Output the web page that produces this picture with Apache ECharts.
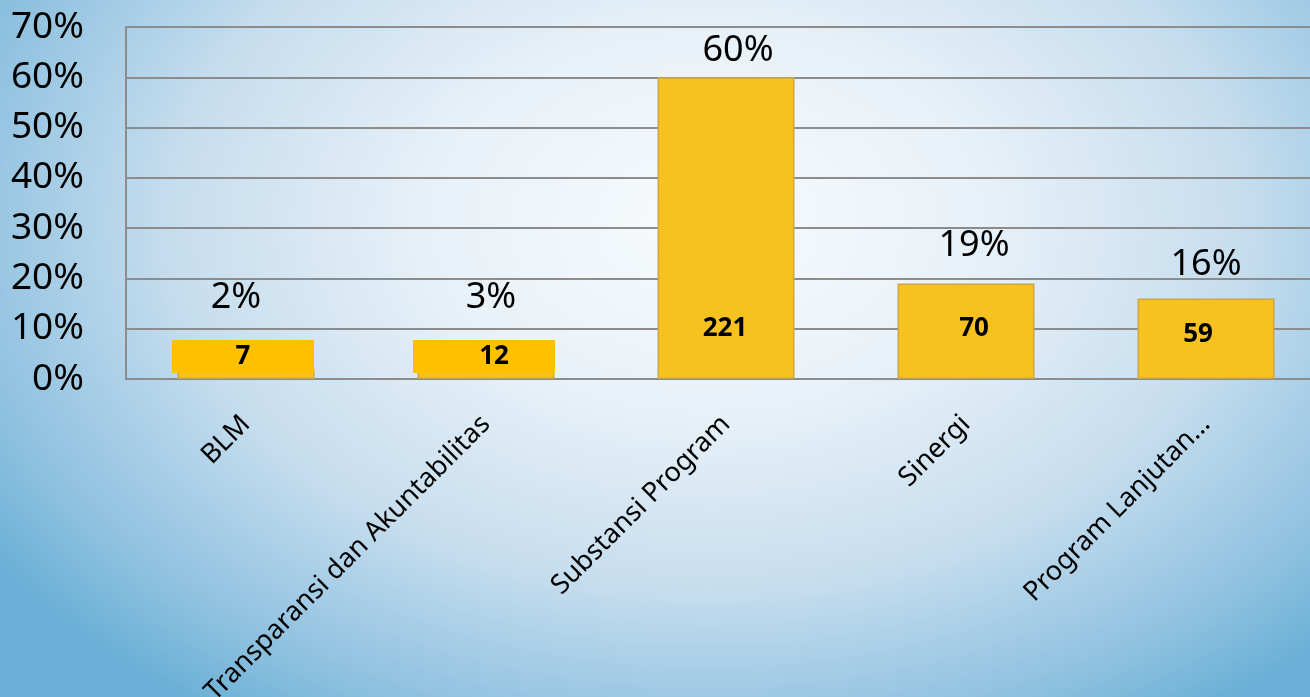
<!DOCTYPE html>
<html>
<head>
<meta charset="utf-8">
<script src="https://cdn.jsdelivr.net/npm/echarts@6/dist/echarts.min.js"></script>
<style>
html,body{margin:0;padding:0;width:1310px;height:697px;overflow:hidden;}
body{background:radial-gradient(ellipse 66% 85% at 54% 32%, #f8fbfd 0%, #e8f1f8 32%, #c6ddee 62%, #8cc0df 88%, #6cb0d7 100%);}
#chart{position:absolute;left:0;top:0;width:1326px;height:697px;}
</style>
</head>
<body>
<div id="chart"></div>
<script>
// Data
const categories = ['BLM', 'Transparansi dan Akuntabilitas', 'Substansi Program', 'Sinergi', 'Program Lanjutan…'];
const percentValues = [2, 3, 60, 19, 16];
const countValues = [7, 12, 221, 70, 59];
const yTicks = [0, 10, 20, 30, 40, 50, 60, 70];

// Label placement tweaks (manual positions as in the original)
const pctLabelDistance = [53, 48, 9, 20, 16];
const pctLabelOffsetX = [-10, 5, 12, 8, 0];
const countLabelDistance = [6, 6, 38, 38, 32];
const countLabelOffsetX = [-3, -2, -1, 8, -8];

const FONT = 'Noto Sans';

const pctData = percentValues.map((v, i) => ({
  value: v,
  label: { distance: pctLabelDistance[i], offset: [pctLabelOffsetX[i], 0] }
}));

const countData = percentValues.map((v, i) => {
  const item = {
    value: v,
    label: { distance: countLabelDistance[i], offset: [countLabelOffsetX[i], 0] }
  };
  if (i < 2) {
    item.label.backgroundColor = '#FFC000';
    item.label.padding = i === 0 ? [5, 0, 4, 0] : [5, 0, 4, 20];
    item.label.width = i === 0 ? 142 : 122;
    item.label.align = 'center';
  }
  return item;
});

const chart = echarts.init(document.getElementById('chart'), null, { renderer: 'canvas' });
chart.setOption({
  backgroundColor: 'transparent',
  animation: false,
  grid: { left: 126, top: 27, right: 0, height: 352, containLabel: false, outerBoundsMode: 'none' },
  xAxis: {
    type: 'category',
    data: categories,
    axisLine: { show: true, lineStyle: { color: '#8c8c8c', width: 2 } },
    axisTick: { show: false },
    axisLabel: {
      rotate: 45, interval: 0, margin: 41,
      fontFamily: FONT, fontSize: 27, color: '#000'
    }
  },
  yAxis: {
    type: 'value',
    min: yTicks[0], max: yTicks[yTicks.length - 1], interval: 10,
    axisLine: { show: true, lineStyle: { color: '#8c8c8c', width: 2 } },
    axisTick: { show: false },
    splitLine: { show: true, lineStyle: { color: '#8c8c8c', width: 2 } },
    axisLabel: {
      margin: 42, fontFamily: FONT, fontSize: 37, color: '#000',
      formatter: v => v + '%'
    }
  },
  series: [
    {
      type: 'bar',
      data: pctData,
      barWidth: 137,
      itemStyle: { color: '#F7C220', borderColor: '#C9A646', borderWidth: 1.5 },
      label: {
        show: true, position: 'top',
        fontFamily: FONT, fontSize: 36, lineHeight: 36, color: '#000',
        formatter: p => p.value + '%'
      }
    },
    {
      type: 'bar',
      data: countData,
      barWidth: 137,
      barGap: '-100%',
      silent: true,
      itemStyle: { color: 'rgba(0,0,0,0)' },
      label: {
        show: true, position: 'insideBottom',
        fontFamily: FONT, fontSize: 26, lineHeight: 24, fontWeight: 'bold', color: '#000',
        formatter: p => String(countValues[p.dataIndex])
      }
    }
  ]
});
</script>
</body>
</html>
